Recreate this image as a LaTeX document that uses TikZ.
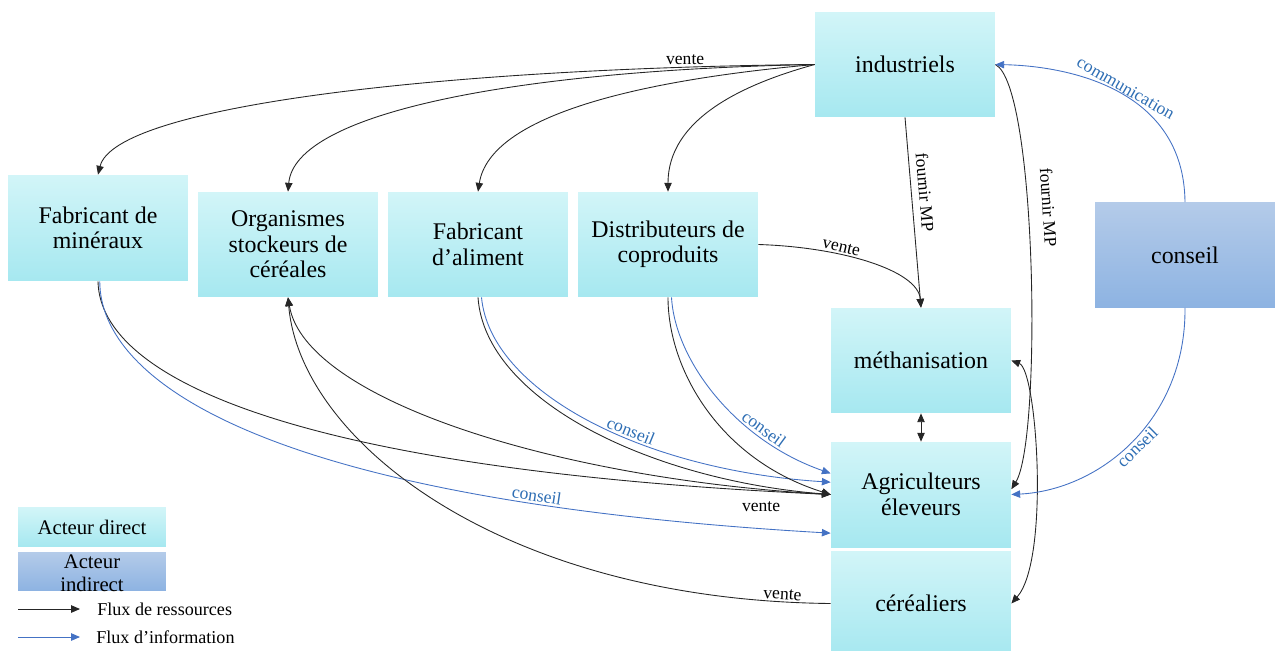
\documentclass[tikz,border=0pt]{standalone}
\usepackage{fontspec}
\setmainfont{Liberation Serif}
\usetikzlibrary{arrows.meta}

\definecolor{cyantop}{RGB}{210,245,248}
\definecolor{cyanbot}{RGB}{166,232,240}
\definecolor{bluetop}{RGB}{180,203,233}
\definecolor{bluebot}{RGB}{141,179,226}
\definecolor{infoblue}{RGB}{68,114,196}
\definecolor{infotext}{RGB}{46,110,180}

\begin{document}
\begin{tikzpicture}[x=0.02cm,y=-0.02cm,
  >={Triangle[length=5pt,width=4.2pt]},
  actor/.style={minimum width=3.6cm, minimum height=2.1cm, inner sep=2pt,
    align=center, font=\fontsize{13.6}{14.5}\selectfont,
    top color=cyantop, bottom color=cyanbot},
  indirect/.style={actor, top color=bluetop, bottom color=bluebot},
  legbox/.style={minimum width=2.96cm, minimum height=0.77cm, inner sep=0pt,
    top color=cyantop, bottom color=cyanbot},
  legtext/.style={align=center, inner sep=0pt, font=\fontsize{11.8}{13.2}\selectfont},
  res/.style={draw=black!85, line width=0.5pt, ->},
  info/.style={draw=infoblue, line width=0.5pt, ->},
  lab/.style={font=\fontsize{10}{11}\selectfont, inner sep=1pt},
  blab/.style={lab, text=infotext},
  flux/.style={anchor=west, inner sep=0pt, font=\fontsize{10.3}{12}\selectfont}
]
\useasboundingbox (0,0) rectangle (1278,650);
\clip (0,0) rectangle (1278,650);

% actors
\node[actor] (ind)  at (905,64.5)  {industriels};
\node[actor, minimum height=2.12cm] (minx) at (98,228) {Fabricant de\\minéraux};
\node[actor] (org)  at (288,244.5) {Organismes\\stockeurs de\\céréales};
\node[actor] (ali)  at (478,244.5) {Fabricant\\d’aliment};
\node[actor] (dis)  at (668,244.5) {Distributeurs de\\coproduits};
\node[indirect] (cons) at (1185,255) {conseil};
\node[actor] (meth) at (921,360.5) {méthanisation};
\node[actor] (agri) at (921,494.5) {Agriculteurs\\éleveurs};
\node[actor] (cer)  at (921,603.5) {céréaliers};

% sales from the industriels
\draw[res] (ind.west) .. controls (450,68) and (115,105) .. (minx.north)
  node[lab, pos=0.12, above] (vInd) {vente};
\draw[res] (ind.west) .. controls (520,70) and (295,112) .. (org.north);
\draw[res] (ind.west) .. controls (640,80) and (490,115) .. (ali.north);
\draw[res] (ind.west) .. controls (740,85) and (668,120) .. (dis.north);

% raw materials
\draw[res] (ind.south) -- (meth.north)
  node[lab, pos=0.4, sloped, above=3pt] (fmp1) {fournir MP};
\draw[res] (ind.east) .. controls (1037,85) and (1042,440) .. ([yshift=3pt]agri.east)
  node[lab, pos=0.4, sloped, above=7pt] (fmp2) {fournir MP};

% co-products to the digester
\draw[res] (dis.east) .. controls (840,247) and (918,270) .. (meth.north)
  node[lab, pos=0.35, sloped, above] (vDis) {vente};

% exchanges around the digester
\draw[res, <->] (meth.south) -- (agri.north);
\draw[res, <->] (meth.east) .. controls (1037,370) and (1050,560) .. (cer.east);

% advisory flows
\draw[info] (cons.north) .. controls (1184,90) and (1070,66) .. (ind.east)
  node[blab, pos=0.48, sloped, above, inner sep=0.5pt] (com) {communication};
\draw[info] (cons.south) .. controls (1186,420) and (1100,490) .. (agri.east)
  node[blab, pos=0.5, sloped, below, inner sep=0.5pt] (cAgri) {conseil};

% mineral suppliers
\draw[res] (minx.south) .. controls (100,380) and (300,470) .. (agri.west)
  node[lab, pos=0.955, below=5pt] (vAgri) {vente};
\draw[info] ([xshift=1pt]minx.south) .. controls (100,380) and (260,500) .. ([yshift=-22pt]agri.west)
  node[blab, pos=0.8, sloped, above] (cMin) {conseil};

% grain storage organisations
\draw[res] (agri.west) .. controls (560,480) and (305,400) .. (org.south);
\draw[res] (cer.west) .. controls (500,600) and (300,440) .. (org.south)
  node[lab, pos=0.05, sloped, above] (vCer) {vente};

% feed manufacturers
\draw[res] (ali.south) .. controls (485,400) and (650,480) .. (agri.west);
\draw[info] ([xshift=2pt]ali.south) .. controls (490,390) and (640,470) .. ([yshift=7pt]agri.west)
  node[blab, pos=0.6, sloped, above] (cAli) {conseil};

% co-product distributors
\draw[res] (dis.south) .. controls (668,370) and (720,460) .. (agri.west);
\draw[info] ([xshift=2pt]dis.south) .. controls (675,360) and (735,440) .. ([yshift=12pt]agri.west)
  node[blab, pos=0.72, sloped, above] (cDis) {conseil};

% legend
\node[legbox] (legD) at (92,527) {};
\node[legtext] (legDt) at (92,527) {Acteur direct};
\node[legbox, top color=bluetop, bottom color=bluebot] (legI) at (92,571.5) {};
\node[legtext] (legIt) at (92,573) {Acteur\\indirect};
\coordinate (r0) at (18,609);
\coordinate (r1) at (80,609);
\draw[res] (r0) -- (r1);
\node[flux] (legR) at (97,609) {Flux de ressources};
\coordinate (i0) at (18,637);
\coordinate (i1) at (80,637);
\draw[info] (i0) -- (i1);
\node[flux] (legF) at (96,637) {Flux d’information};
\end{tikzpicture}
\end{document}
